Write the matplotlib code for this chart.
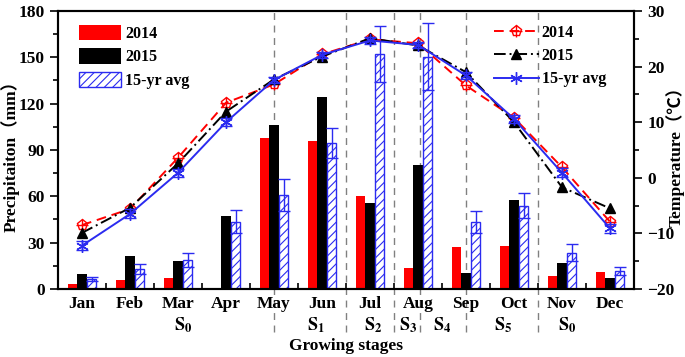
import numpy as np
import matplotlib.pyplot as plt
from matplotlib.patches import Patch
from matplotlib.lines import Line2D

plt.rcParams['font.family'] = ['Liberation Serif', 'Noto Sans CJK SC']
plt.rcParams['font.weight'] = 'bold'
plt.rcParams['mathtext.fontset'] = 'stix'
plt.rcParams['hatch.linewidth'] = 0.8

# Monthly data
months = ['Jan', 'Feb', 'Mar', 'Apr', 'May', 'Jun', 'Jul', 'Aug', 'Sep', 'Oct', 'Nov', 'Dec']
prec_2014 = [3, 5.7, 7, 0, 98, 96, 60, 13.5, 27, 28, 8.5, 11]
prec_2015 = [10, 21.5, 18, 47.5, 106.5, 124.5, 56, 80, 10.5, 57.5, 17, 7]
prec_avg = [6.5, 13, 19, 43.5, 61, 94.5, 152, 150.5, 43.5, 54, 23.5, 11.5]
prec_sd = [1.5, 3, 4.5, 7.5, 10.5, 10, 18, 21.5, 7, 8, 5.5, 2.5]

temp_2014 = [-8.5, -5.6, 3.6, 13.5, 16.8, 22.2, 24.9, 24.2, 16.6, 10.8, 1.9, -7.9]
temp_2015 = [-9.9, -5.4, 2.6, 11.9, 17.7, 21.8, 25.1, 23.8, 19.0, 10.0, -1.7, -5.5]
temp_avg = [-12.2, -6.5, 0.9, 10.0, 17.6, 22.1, 24.7, 23.9, 18.4, 10.6, 0.9, -9.1]
temp_sd = [0.8, 0.8, 0.7, 0.7, 0.6, 0.6, 0.6, 0.6, 0.7, 0.7, 0.8, 0.8]

stage_labels = ['$\\mathbf{S_0}$', '$\\mathbf{S_1}$', '$\\mathbf{S_2}$', '$\\mathbf{S_3}$',
                '$\\mathbf{S_4}$', '$\\mathbf{S_5}$', '$\\mathbf{S_0}$']
stage_x = [3.1, 5.87, 7.06, 7.8, 8.5, 9.77, 11.1]
stage_bounds = [5, 6.5, 7.5, 8.05, 9, 10.5]

x = np.arange(1, 13)
w = 0.2
blue = '#2b2bf0'

fig = plt.figure(figsize=(6.85, 3.57), dpi=100)
ax = fig.add_axes([0.0847, 0.1905, 0.8408, 0.7787])
ax2 = ax.twinx()

# stage boundaries (extend below the axis into the label area)
for b in stage_bounds:
    ax.axvline(b, ymin=-0.155, ymax=1, color='#808080', ls=(0, (5, 4)), lw=1.0,
               clip_on=False, zorder=0)

# bars
ax.bar(x - w, prec_2014, w, color='red', zorder=2)
ax.bar(x, prec_2015, w, color='black', zorder=2)
ax.bar(x + w, prec_avg, w, facecolor='white', edgecolor=blue, hatch='////', lw=1.0, zorder=2)
ax.errorbar(x + w, prec_avg, yerr=prec_sd, fmt='none', ecolor=blue, elinewidth=1.0,
            capsize=4.5, capthick=1.0, zorder=3)

ax.set_xlim(0.5, 12.5)
ax.set_ylim(0, 180)
ax.set_yticks(np.arange(0, 181, 30))
ax.set_yticks(np.arange(15, 180, 30), minor=True)
ax.set_xticks(x)
ax.set_xticklabels(months, fontsize=12.5, fontweight='bold')
ax.set_xticks(np.arange(1.5, 12, 1), minor=True)
ax.tick_params(axis='x', which='major', length=0, pad=5)
ax.tick_params(axis='x', which='minor', direction='in', length=4, width=1.2)
ax.tick_params(axis='y', which='major', direction='out', length=6, width=1.2, labelsize=12.5)
ax.tick_params(axis='y', which='minor', direction='out', length=3.5, width=1.2)
for lbl in ax.get_yticklabels():
    lbl.set_fontweight('bold')
for s in ax.spines.values():
    s.set_linewidth(1.5)

# temperature lines
ax2.plot(x, temp_2014, color='red', ls=(0, (5, 3)), lw=1.4, marker='p', ms=8,
         mfc='none', mec='red', mew=1.0, zorder=4)
ax2.plot(x, temp_2014, ls='none', marker='+', ms=8, mec='red', mew=1.0, zorder=4)
ax2.plot(x, temp_2015, color='black', ls=(0, (6, 2, 1, 2)), lw=1.4, marker='^', ms=7,
         mfc='black', mec='black', zorder=5)
ax2.errorbar(x, temp_avg, yerr=temp_sd, color=blue, lw=1.4, marker=(6, 2, 0), ms=9,
             mec=blue, mew=1.0, elinewidth=1.0, capsize=4, capthick=1.0, zorder=6)

ax2.set_ylim(-20, 30)
ax2.set_yticks(np.arange(-20, 31, 10))
ax2.set_yticks(np.arange(-15, 30, 10), minor=True)
ax2.tick_params(axis='y', which='major', direction='out', length=6, width=1.2, labelsize=12.5)
ax2.tick_params(axis='y', which='minor', direction='out', length=3.5, width=1.2)
for lbl in ax2.get_yticklabels():
    lbl.set_fontweight('bold')
for s in ax2.spines.values():
    s.set_linewidth(1.5)

# axis titles placed by hand
fig.text(10 / 685, 1 - 152 / 357, 'Precipitaiton（mm）', rotation=90, ha='center', va='center',
         fontsize=12.5, fontweight='bold')
fig.text(675 / 685, 1 - 152 / 357, 'Temperature（℃）', rotation=90, ha='center', va='center',
         fontsize=12.5, fontweight='bold')

# growing stage labels
for sx, sl in zip(stage_x, stage_labels):
    ax.text(sx, -0.13, sl, transform=ax.get_xaxis_transform(), ha='center', va='center',
            fontsize=13)
ax.text(0.5, -0.205, 'Growing stages', transform=ax.transAxes, ha='center', va='center',
        fontsize=12.5, fontweight='bold')

# legends
h_bars = [Patch(facecolor='red', edgecolor='none'),
          Patch(facecolor='black', edgecolor='none'),
          Patch(facecolor='white', edgecolor=blue, hatch='////')]
leg1 = ax.legend(h_bars, ['2014', '2015', '15-yr avg'], loc='upper left',
                 bbox_to_anchor=(0.02, 0.985), frameon=False, fontsize=11.5,
                 handlelength=2.6, handleheight=1.1, handletextpad=0.3, labelspacing=0.4,
                 borderaxespad=0.2)

h_lines = [(Line2D([], [], color='red', ls=(0, (5, 3)), lw=1.4, marker='p', ms=8,
                   mfc='none', mec='red'),
            Line2D([], [], ls='none', marker='+', ms=8, mec='red')),
           Line2D([], [], color='black', ls=(0, (6, 2, 1, 2)), lw=1.4, marker='^', ms=7,
                  mfc='black'),
           Line2D([], [], color=blue, lw=1.4, marker=(6, 2, 0), ms=9, mec=blue)]
leg2 = ax2.legend(h_lines, ['2014', '2015', '15-yr avg'], loc='upper left',
                  bbox_to_anchor=(0.74, 0.985), frameon=False, fontsize=11.5,
                  handlelength=2.8, handletextpad=0.2, labelspacing=0.45, borderaxespad=0.2)
for t in leg1.get_texts() + leg2.get_texts():
    t.set_fontweight('bold')

fig.savefig('out.png', dpi=100)
